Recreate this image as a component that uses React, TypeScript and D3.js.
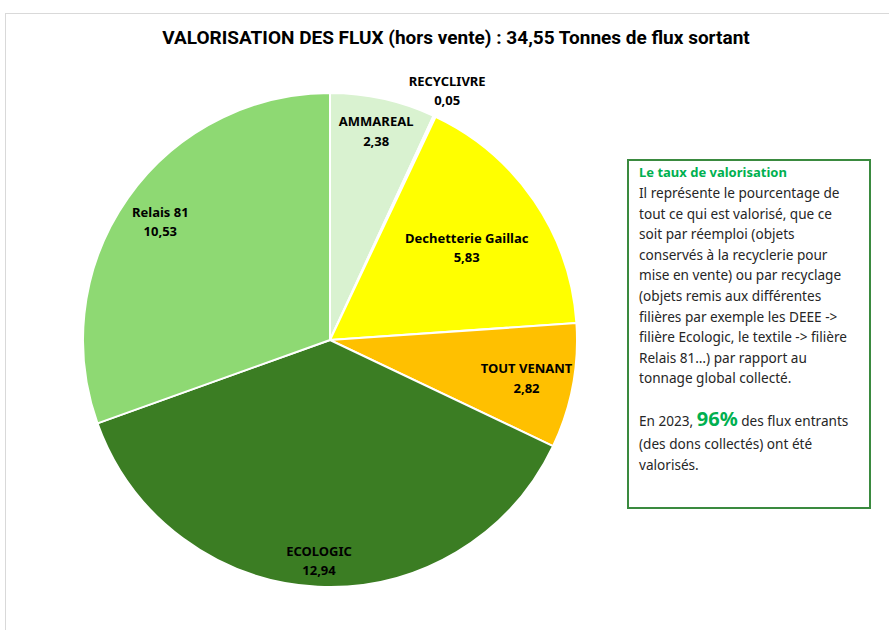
import React from "react"
import * as d3 from "d3"

// flux sortants (tonnes), dans l'ordre horaire depuis midi
const categories = ["AMMAREAL", "RECYCLIVRE", "Dechetterie Gaillac", "TOUT VENANT", "ECOLOGIC", "Relais 81"]
const values = [2.38, 0.05, 5.83, 2.82, 12.94, 10.53]
const valueLabels = ["2,38", "0,05", "5,83", "2,82", "12,94", "10,53"]
const colors = ["#D9F2D0", "#FFFFFF", "#FFFF00", "#FFC000", "#3B7D23", "#8ED973"]
// distance of each label from the centre, as a share of the radius
const labelRadius = [0.87, 1.12, 0.67, 0.81, 0.89, 0.84]

const title = "VALORISATION DES FLUX (hors vente) : 34,55 Tonnes de flux sortant"
const boxTitle = "Le taux de valorisation"
const boxLines = [
    "Il représente le pourcentage de",
    "tout ce qui est valorisé, que ce",
    "soit par réemploi (objets",
    "conservés à la recyclerie pour",
    "mise en vente) ou par recyclage",
    "(objets remis aux différentes",
    "filières par exemple les DEEE ->",
    "filière Ecologic, le textile -> filière",
    "Relais 81…) par rapport au",
    "tonnage global collecté.",
]

const W = 889
const H = 630
const cx = 330
const cy = 340
const R = 247

export default function App() {
    const pie = d3
        .pie<number>()
        .sort(null)
        .startAngle(0)
        .endAngle(2 * Math.PI)(values)
    const arc = d3.arc<d3.PieArcDatum<number>>().innerRadius(0).outerRadius(R)

    const labelFont = "'Noto Sans', 'DejaVu Sans', sans-serif"
    const boxFont = "'Noto Sans', 'DejaVu Sans', sans-serif"

    return (
        <svg
            width={W}
            height={H}
            style={{ position: "absolute", left: 0, top: 0, background: "#fff" }}
        >
            <rect x={5.5} y={13.5} width={W + 20} height={H + 20} fill="#fff" stroke="#D9D9D9" />
            <text
                x={456}
                y={44}
                textAnchor="middle"
                fontFamily="'Roboto', sans-serif"
                fontWeight="bold"
                fontSize={19}
                fill="#000"
            >
                {title}
            </text>

            <g transform={`translate(${cx},${cy})`}>
                {pie.map((d, i) => (
                    <path key={i} d={arc(d) || ""} fill={colors[i]} stroke="#fff" strokeWidth={2} />
                ))}
                {pie.map((d, i) => {
                    const a = (d.startAngle + d.endAngle) / 2
                    const r = R * labelRadius[i]
                    const x = Math.sin(a) * r
                    const y = -Math.cos(a) * r
                    return (
                        <text
                            key={"l" + i}
                            x={x}
                            y={y}
                            textAnchor="middle"
                            fontFamily={labelFont}
                            fontWeight="bold"
                            fontSize={13}
                            fill="#000"
                        >
                            <tspan x={x} dy="-0.3em">{categories[i]}</tspan>
                            <tspan x={x} dy="1.5em">{valueLabels[i]}</tspan>
                        </text>
                    )
                })}
            </g>

            <rect x={628} y={160} width={242} height={348} fill="#fff" stroke="#3A8A3F" strokeWidth={2} />
            <g fontFamily={boxFont} fontSize={13.6} fill="#262626">
                <text x={639} y={177} fill="#00B050" fontWeight="bold" fontSize={13}>{boxTitle}</text>
                {boxLines.map((l, i) => (
                    <text key={i} x={639} y={198 + i * 20.6}>{l}</text>
                ))}
                <text x={639} y={426} style={{ whiteSpace: "pre" }}>
                    {"En 2023, "}
                    <tspan fill="#00B050" fontWeight="bold" fontSize={20}>{"96%"}</tspan>
                    {" des flux entrants"}
                </text>
                <text x={639} y={449}>(des dons collectés) ont été</text>
                <text x={639} y={470}>valorisés.</text>
            </g>
        </svg>
    )
}
